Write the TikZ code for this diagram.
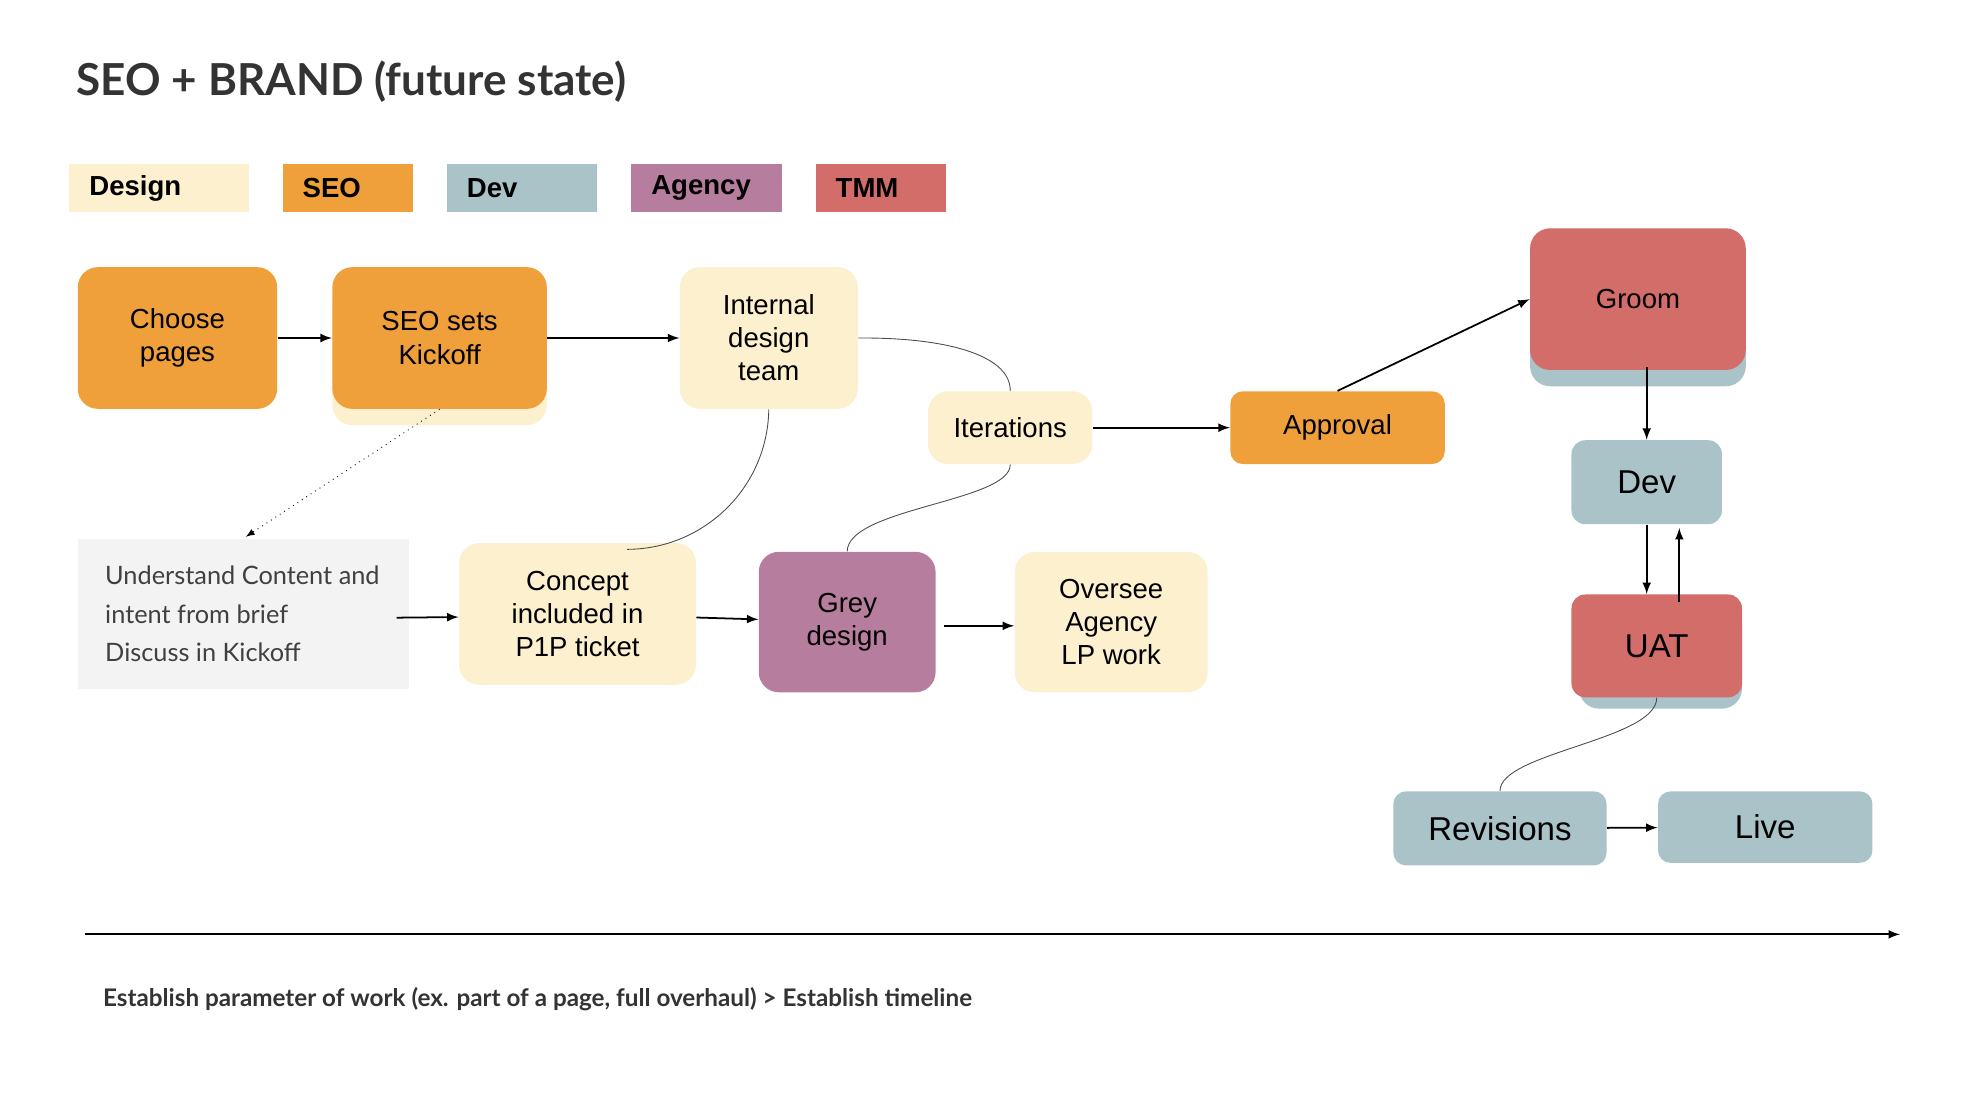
\documentclass[tikz,border=0pt]{standalone}
\usepackage{fontspec}
\setmainfont{Liberation Sans}
\newfontfamily\titlefont{Lato}
\definecolor{cDesign}{HTML}{FCF0CF}
\definecolor{cSEO}{HTML}{F0A03A}
\definecolor{cDev}{HTML}{A9C3C8}
\definecolor{cAgency}{HTML}{B77D9E}
\definecolor{cTMM}{HTML}{D36D69}
\definecolor{cNote}{HTML}{F3F3F3}
\begin{document}
\begin{tikzpicture}[x=0.02cm,y=-0.02cm,line join=round,>=latex,
  box/.style={rounded corners=0.32cm,inner sep=2pt,align=center,font=\fontsize{12.5}{15}\selectfont},
  key/.style={anchor=west,inner xsep=0.32cm,inner ysep=0pt,text width=#1,align=left,font=\fontsize{12.5}{15}\selectfont\bfseries,minimum height=0.76cm},
  flow/.style={thick,->},
  link/.style={thin,draw=black!70}]
  \useasboundingbox (0,0) rectangle (1566,877);
  \node[anchor=west,font=\titlefont\fontsize{20}{24}\selectfont\bfseries,text=black!80] (title) at (55,65) {SEO + BRAND (future state)};
  % legend
  \node[key=2.22cm,fill=cDesign] (kDesign) at (55,150) {Design};
  \node[key=1.44cm,fill=cSEO] (kSEO) at (225,150) {SEO};
  \node[key=1.76cm,fill=cDev] (kDev) at (356,150) {Dev};
  \node[key=1.76cm,fill=cAgency] (kAgency) at (503,150) {Agency};
  \node[key=1.44cm,fill=cTMM] (kTMM) at (650,150) {TMM};
  % shadows
  \fill[cDesign,rounded corners=0.32cm] (265,226) rectangle (436,339);
  \fill[cDev,rounded corners=0.32cm] (1220,195) rectangle (1392,308);
  \fill[cDev,rounded corners=0.32cm] (1259,483) rectangle (1389,565);
  % boxes
  \node[box,fill=cSEO,minimum width=3.18cm,minimum height=2.26cm] (choose) at (141.5,269.5) {Choose\\pages};
  \node[box,fill=cSEO,minimum width=3.42cm,minimum height=2.26cm] (kickoff) at (350.5,269.5) {SEO sets\\Kickoff};
  \node[box,fill=cDesign,minimum width=2.84cm,minimum height=2.26cm] (internal) at (613,269.5) {Internal\\design\\team};
  \node[box,fill=cDesign,minimum width=2.62cm,minimum height=1.16cm] (iter) at (805.5,341) {Iterations};
  \node[box,fill=cSEO,minimum width=3.42cm,minimum height=1.16cm,rounded corners=0.2cm] (approval) at (1066.5,341) {Approval};
  \node[box,fill=cTMM,minimum width=3.44cm,minimum height=2.26cm] (groom) at (1306,238.5) {Groom};
  \node[box,fill=cDev,minimum width=2.4cm,minimum height=1.34cm,rounded corners=0.22cm,font=\fontsize{15}{18}\selectfont] (dev) at (1313,384.5) {Dev};
  \node[box,fill=cTMM,minimum width=2.72cm,minimum height=1.64cm,rounded corners=0.22cm,font=\fontsize{15}{18}\selectfont] (uat) at (1321,515) {UAT};
  \node[box,fill=cDev,minimum width=3.4cm,minimum height=1.18cm,rounded corners=0.2cm,font=\fontsize{15}{18}\selectfont] (revisions) at (1196,660.5) {Revisions};
  \node[box,fill=cDev,minimum width=3.42cm,minimum height=1.14cm,rounded corners=0.2cm,font=\fontsize{15}{18}\selectfont] (live) at (1407.5,659.5) {Live};
  \node[fill=cNote,minimum width=5.28cm,minimum height=2.38cm,inner sep=0pt] (note) at (194,489.5) {};
  \node[anchor=west,align=left,font=\titlefont\fontsize{11.5}{17.5}\selectfont,text=black!75] (notetext) at (note.west) {\hspace{0.32cm}Understand Content and\\\hspace{0.32cm}intent from brief\\\hspace{0.32cm}Discuss in Kickoff};
  \node[box,fill=cDesign,minimum width=3.78cm,minimum height=2.26cm] (concept) at (460.5,489.5) {Concept\\included in\\P1P ticket};
  \node[box,fill=cAgency,minimum width=2.82cm,minimum height=2.24cm] (grey) at (675.5,496) {Grey\\design};
  \node[box,fill=cDesign,minimum width=3.08cm,minimum height=2.24cm] (oversee) at (886,496) {Oversee\\Agency\\LP work};
  % connectors
  \draw[flow] (choose) -- (kickoff);
  \draw[flow] (kickoff) -- (internal);
  \draw[thin,dotted,->] (kickoff.south) -- (196,428);
  \draw[link] (internal.east) .. controls (760,269) and (806,285) .. (iter.north);
  \draw[link] (internal.south) .. controls (612,390) and (560,438) .. (500,438);
  \draw[link] (iter.south) .. controls (806,400) and (676,405) .. (grey.north);
  \draw[flow] (iter) -- (approval);
  \draw[flow] (approval.north) -- (groom.west);
  \draw[flow] (1313,293) -- (dev.north);
  \draw[flow] (dev.south) -- (uat.north -| dev.south);
  \draw[flow] (1339,480) -- (1339,421);
  \draw[link] (uat.south) .. controls (1321,590) and (1196,600) .. (revisions.north);
  \draw[flow] (revisions) -- (live);
  \draw[flow] (note.east) ++(-10,3) -- (concept.west |- 0,492);
  \draw[flow] (concept) -- (grey);
  \draw[flow] (grey.east) ++(6,3) -- (oversee.west |- 0,499);
  % timeline
  \coordinate (tstart) at (68,745);
  \coordinate (tend) at (1515,745);
  \draw[flow] (tstart) -- (tend);
  \node[anchor=west,font=\titlefont\fontsize{11}{13}\selectfont\bfseries,text=black!80] (footer) at (76,797) {Establish parameter of work (ex. part of a page, full overhaul) > Establish timeline};
\end{tikzpicture}
\end{document}
